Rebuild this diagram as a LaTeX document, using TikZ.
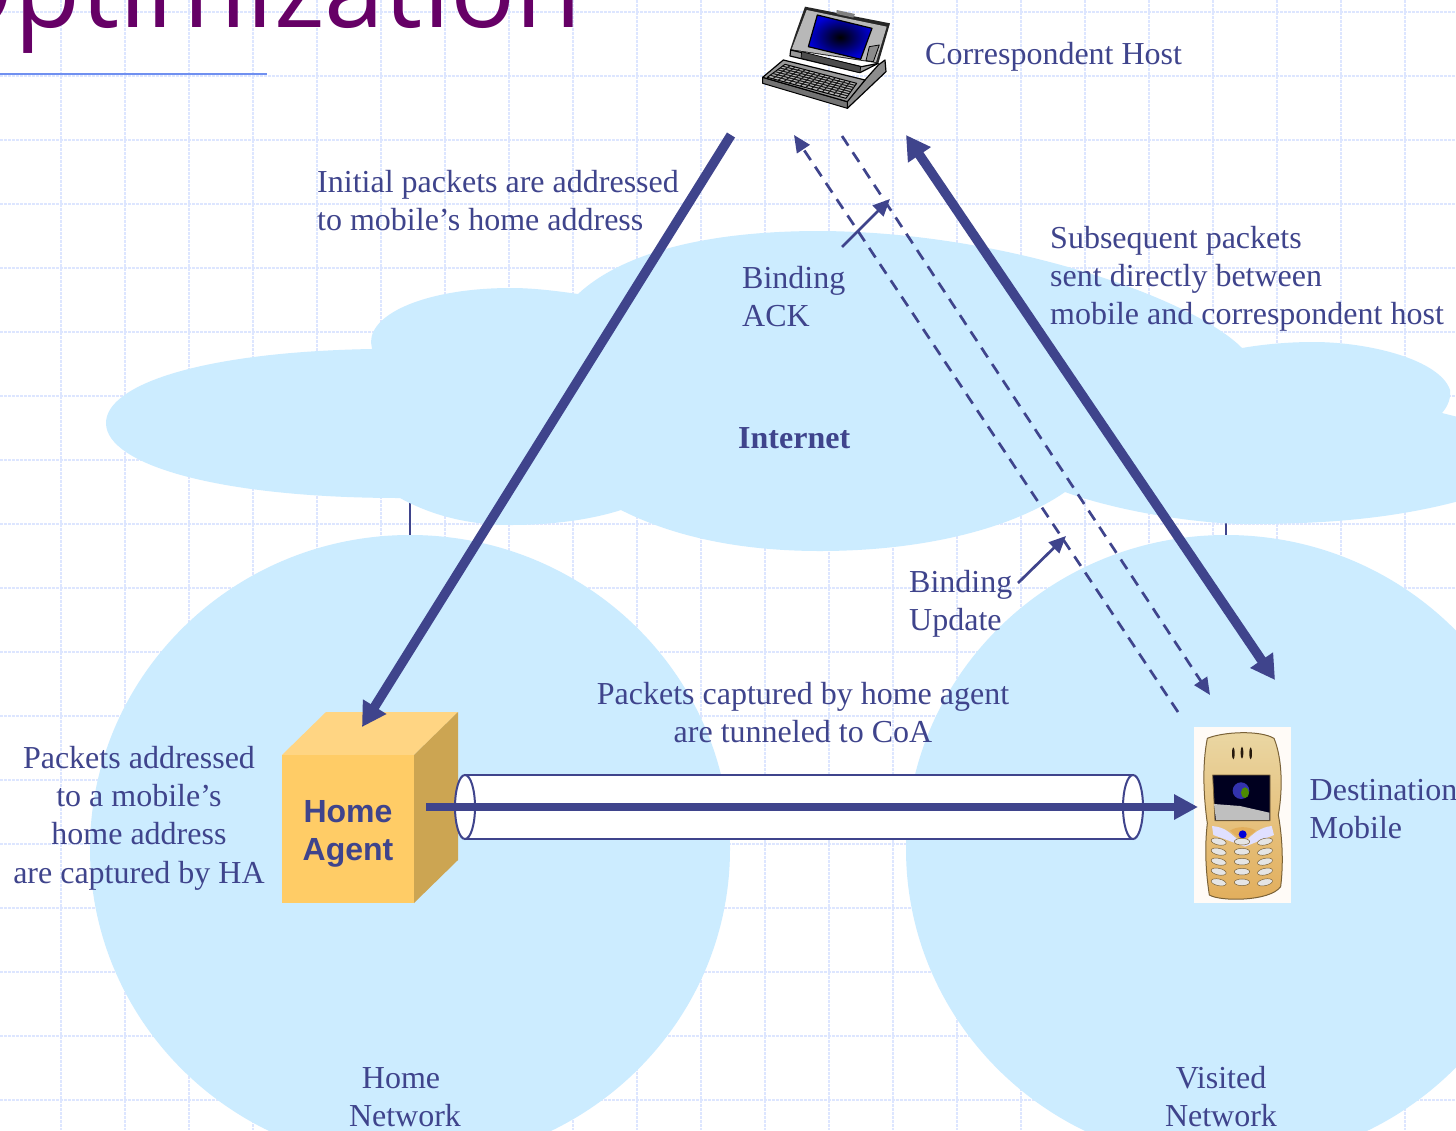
\documentclass[tikz,border=0pt]{standalone}
\usepackage{fontspec}
\setmainfont{Liberation Serif}
\newfontfamily\titlefont{Open Sans}
\newfontfamily\arialfont{Liberation Sans}
\usetikzlibrary{arrows.meta,calc}
\definecolor{ink}{HTML}{3F448C}
\definecolor{sky}{HTML}{CCECFF}
\definecolor{gridc}{HTML}{DDE6FF}
\definecolor{titlec}{HTML}{660066}
\definecolor{rulec}{HTML}{7090F0}
\definecolor{cubefront}{HTML}{FFCC66}
\definecolor{cubetop}{HTML}{FFD583}
\definecolor{cubeside}{HTML}{CCA552}
\definecolor{goldhi}{HTML}{EAD7A4}
\definecolor{goldlo}{HTML}{E2AE5C}
\definecolor{goldedge}{HTML}{7A6238}
\newcommand{\topstrut}{\rule{0pt}{24pt}}
\tikzset{
  lbl/.style={text=ink,font=\fontsize{32}{38.3}\selectfont,inner sep=0pt,anchor=north west,align=left},
  lblc/.style={lbl,anchor=north,align=center},
  grid line/.style={gridc,line width=1.7pt,dash pattern=on 2.5pt off 1.5pt},
  heavy/.style={ink,line width=9.5pt,-{Triangle[length=24pt,width=26pt]}},
  heavy both/.style={ink,line width=9.5pt,{Triangle[length=24pt,width=26pt]}-{Triangle[length=24pt,width=26pt]}},
  dashy/.style={ink,line width=2.7pt,dash pattern=on 11.5pt off 8pt,-{Triangle[length=17pt,width=15pt]}},
  pointer/.style={ink,line width=2.7pt,-{Triangle[length=17pt,width=15pt]}},
  tube/.style={draw=ink,line width=2pt,fill=white},
}
\begin{document}
\begin{tikzpicture}[x=1pt,y=-1pt]
\useasboundingbox (0,0) rectangle (1456,1130);
\clip (0,0) rectangle (1456,1130);
\fill[white] (0,0) rectangle (1456,1130);
% background grid
\foreach \k in {0,...,21} \draw[grid line] ({61+64*\k},0) -- ({61+64*\k},1130);
\foreach \k in {0,...,17} \draw[grid line] (0,{12+64*\k}) -- (1456,{12+64*\k});
% title
\node[anchor=base east,inner sep=0pt,text=titlec,font=\fontsize{108}{120}\titlefont] (title) at (582,27) {Optimization};
\fill[rulec] (0,73) rectangle (267,75);
% stubs between cloud and circles
\draw[ink,line width=2pt] (410,495) -- (410,540);
\draw[ink,line width=2pt] (1226,515) -- (1226,540);
% internet cloud
\fill[sky]
  (372,349) .. controls (200,352) and (106,385) .. (106,423)
  .. controls (106,465) and (220,498) .. (400,498)
  .. controls (440,520) and (480,525) .. (511,525)
  .. controls (550,525) and (590,520) .. (621,510)
  .. controls (680,540) and (750,551) .. (820,551)
  .. controls (920,551) and (1010,530) .. (1065,492)
  .. controls (1120,512) and (1200,524) .. (1247,524)
  .. controls (1330,524) and (1400,518) .. (1470,498)
  -- (1470,420) -- (1442,413)
  .. controls (1448,406) and (1451,398) .. (1450,390)
  .. controls (1440,360) and (1370,342) .. (1313,342)
  .. controls (1290,342) and (1265,344) .. (1242,348)
  .. controls (1195,300) and (1010,232) .. (820,231)
  .. controls (700,231) and (620,255) .. (578,294)
  .. controls (550,290) and (530,288) .. (511,288)
  .. controls (430,288) and (371,312) .. (371,342)
  -- cycle;
% network circles
\fill[sky] (410,849) ellipse [x radius=320,y radius=314];
\fill[sky] (1226,849) ellipse [x radius=320,y radius=314];
% cube
\fill[cubetop] (282,755) -- (326,712) -- (458,712) -- (414,755) -- cycle;
\fill[cubeside] (414,755) -- (458,712) -- (458,860) -- (414,903) -- cycle;
\fill[cubefront] (282,755) rectangle (414,903);
\node[lblc,font=\arialfont\bfseries\fontsize{32}{38.3}\selectfont] (ha) at (348,798) {\topstrut Home\\Agent};
% tunnel
\fill[white] (465,775) rectangle (1133,839);
\draw[ink,line width=2pt] (465,775) -- (1133,775) (465,839) -- (1133,839);
\draw[tube] (465,807) ellipse [x radius=10,y radius=32];
\draw[tube] (1133,807) ellipse [x radius=10,y radius=32];
% laptop
\begin{scope}[shift={(740,0)},x=.3333pt,y=-.3333pt,line join=round]
  \fill[black!85] (165,105) -- (195,20) -- (450,70) -- (415,190) -- (150,150) -- cycle;
  \fill[black!28] (200,30) -- (440,80) -- (408,186) -- (155,148) -- cycle;
  \fill[black!50] (290,30) -- (345,42) -- (340,53) -- (290,42) -- cycle;
  \shade[inner color=black,outer color=blue!85!black] (232,45) -- (396,85) -- (362,178) -- (205,140) -- cycle;
  \draw[black,line width=1.2pt] (232,45) -- (396,85) -- (362,178) -- (205,140) -- cycle;
  \filldraw[fill=black!45,draw=black,line width=.8pt] (388,140) -- (418,135) -- (400,185) -- (378,182) -- cycle;
  % base rear block and front edge
  \filldraw[fill=black!45,draw=black,line width=1.2pt] (375,240) -- (415,195) -- (435,180) -- (438,215) -- (322,325) -- (322,300) -- cycle;
  \filldraw[fill=black!55,draw=black,line width=1pt] (68,232) -- (322,305) -- (322,325) -- (68,250) -- cycle;
  \filldraw[fill=black!40,draw=black,line width=1.2pt] (130,180) -- (375,240) -- (322,305) -- (68,232) -- cycle;
  % hinge
  \filldraw[fill=black!40,draw=black,line width=1.2pt] (152,150) -- (150,168) -- (360,218) -- (415,190) -- (365,200) -- cycle;
  \filldraw[fill=black!70,draw=black,line width=.7pt] (185,155) -- (362,200) -- (360,218) -- (183,175) -- cycle;
  % keyboard
  \coordinate (kTL) at (135,193);
  \coordinate (kTR) at (350,250);
  \coordinate (kBR) at (318,295);
  \coordinate (kBL) at (82,232);
  \filldraw[fill=black!28,draw=black,line width=1pt] (kTL) -- (kTR) -- (kBR) -- (kBL) -- cycle;
  \foreach \t in {.14,.28,.42,.56,.7,.84} \draw[black!90,line width=1.1pt] ($(kTL)!\t!(kBL)$) -- ($(kTR)!\t!(kBR)$);
  \foreach \t in {.07,.14,.21,.28,.35,.42,.49,.56,.63,.7,.77,.84,.91} \draw[black!90,line width=1.1pt] ($(kTL)!\t!(kTR)$) -- ($(kBL)!\t!(kBR)$);
\end{scope}
% phone
\begin{scope}[shift={(1130,700)},x=.3333pt,y=-.3333pt,line join=round]
  \fill[white!97!orange] (192,80) rectangle (483,610);
  \shade[top color=goldhi,bottom color=goldlo,draw=goldedge,line width=1pt]
    (232,115) .. controls (280,95) and (390,90) .. (432,115) .. controls (455,170) and (460,260) .. (445,345) .. controls (455,400) and (462,480) .. (452,560) .. controls (420,605) and (270,605) .. (238,585) .. controls (225,500) and (225,430) .. (232,370) .. controls (222,300) and (215,200) .. (232,115) -- cycle;
  \foreach \u/\w in {310/160,336/158,362/160} \fill[black!80!brown] (\u,\w) ellipse [x radius=4,y radius=18];
  \filldraw[fill=black!88!blue,draw=goldedge,line width=.8pt] (248,225) -- (420,225) -- (420,362) -- (255,362) -- cycle;
  \fill[black!25!white] (252,312) -- (330,318) -- (418,338) -- (418,360) -- (258,360) -- cycle;
  \fill[blue!60!black!80!white] (333,272) circle [radius=25];
  \fill[green!35!black!70!yellow] (345,278) ellipse [x radius=12,y radius=16];
  \fill[white!88!blue] (246,378) .. controls (290,382) and (300,400) .. (338,432) .. controls (370,400) and (390,382) .. (425,378) -- (432,405) -- (345,440) -- (250,405) -- cycle;
  \fill[goldlo] (300,392) .. controls (320,378) and (355,378) .. (378,392) -- (338,425) -- cycle;
  \fill[blue!85!black] (338,403) circle [radius=12];
  \foreach \w in {425,455,485,515,547} {
    \foreach \u/\r in {266/-12,336/0,405/12} {
      \fill[black!10,draw=goldedge,line width=.5pt,rotate around={\r:(\u,\w)}] (\u,\w) ellipse [x radius=23,y radius=10];
    }
  }
\end{scope}
% connector end points
\coordinate (chLeft) at (731,135);
\coordinate (haTop) at (362,727);
\coordinate (chRight) at (906,135);
\coordinate (mnTop) at (1275,680);
\coordinate (ackTip) at (794,135);
\coordinate (ackStart) at (1178,712);
\coordinate (buStart) at (842,136);
\coordinate (buTip) at (1210,695);
\coordinate (tunStart) at (426,807);
\coordinate (tunEnd) at (1198,807);
\coordinate (ackFrom) at (842,247);
\coordinate (ackTo) at (890,199);
\coordinate (updFrom) at (1018,583);
\coordinate (updTo) at (1066,536);
% labels
\node[lbl] (ch) at (925,40) {\topstrut Correspondent Host};
\node[lbl] (init) at (317,168) {\topstrut Initial packets are addressed\\to mobile’s home address};
\node[lbl] (back) at (742,264) {\topstrut Binding\\ACK};
\node[lbl] (subs) at (1050,224) {\topstrut Subsequent packets\\sent directly between\\mobile and correspondent host};
\node[lbl,font=\bfseries\fontsize{32}{38.3}\selectfont] (net) at (738,424) {\topstrut Internet};
\node[lbl] (bupd) at (909,568) {\topstrut Binding\\Update};
\node[lblc] (capt) at (803,680) {\topstrut Packets captured by home agent\\are tunneled to CoA};
\node[lblc] (addr) at (139,744) {\topstrut Packets addressed\\to a mobile’s\\home address\\are captured by HA};
\node[lbl] (dest) at (1309.5,776) {\topstrut Destination\\Mobile};
\node[lblc] (homen) at (405,1064) {\topstrut Home\kern8pt\null\\Network};
\node[lblc] (visn) at (1221,1064) {\topstrut Visited\\Network};
% connectors
\draw[heavy] (chLeft) -- (haTop);
\draw[heavy both] (chRight) -- (mnTop);
\draw[dashy] (ackStart) -- (ackTip);
\draw[dashy] (buStart) -- (buTip);
\draw[ink,line width=7.5pt,-{Triangle[length=24pt,width=24pt]}] (tunStart) -- (tunEnd);
\draw[pointer] (ackFrom) -- (ackTo);
\draw[pointer] (updFrom) -- (updTo);
\end{tikzpicture}
\end{document}
